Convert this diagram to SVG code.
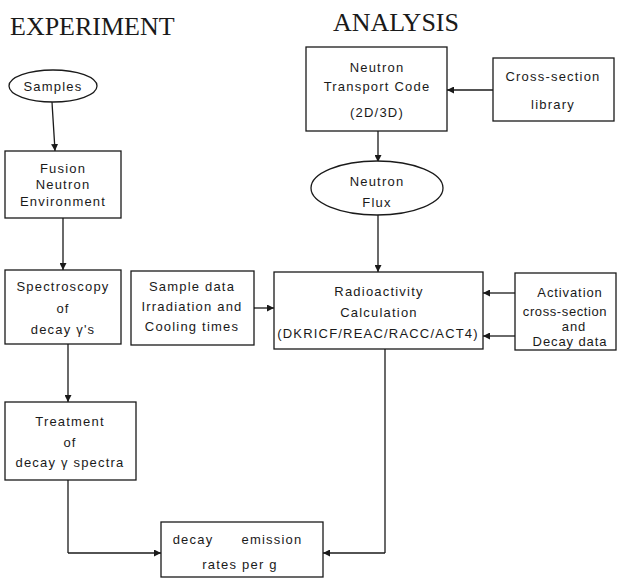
<svg xmlns="http://www.w3.org/2000/svg" width="618" height="579" viewBox="0 0 618 579">
<defs>
<marker id="ah" viewBox="0 0 10 10" refX="10" refY="5" markerWidth="7" markerHeight="7" markerUnits="userSpaceOnUse" orient="auto">
<path d="M0,0 L10,5 L0,10 z" fill="#1a1a1a"/>
</marker>
<style>
.box{fill:#fff;stroke:#1a1a1a;stroke-width:1.3}
.t{font-family:"Liberation Sans",Arial,sans-serif;font-size:13px;letter-spacing:1.2px;fill:#1a1a1a;text-anchor:middle}
.title{font-family:"Liberation Serif","Times New Roman",serif;font-size:26px;fill:#1a1a1a}
.c{fill:none;stroke:#1a1a1a;stroke-width:1.3}
.ca{fill:none;stroke:#1a1a1a;stroke-width:1.3;marker-end:url(#ah)}
</style>
</defs>
<rect width="618" height="579" fill="#fff"/>
<text class="title" x="10" y="35">EXPERIMENT</text>
<text class="title" x="333" y="31">ANALYSIS</text>

<g id="connectors">
<path class="ca" d="M52,102 L55,151"/>
<path class="ca" d="M63,218 L63,270"/>
<path class="ca" d="M68,344 L68,402"/>
<path class="c" d="M68,480 L68,553"/>
<path class="ca" d="M68,553 L161,553"/>
<path class="ca" d="M254,308 L274,308"/>
<path class="ca" d="M493,90 L447,90"/>
<path class="ca" d="M378,131 L378,162"/>
<path class="ca" d="M378,215 L378,272"/>
<path class="ca" d="M515,293 L483,293"/>
<path class="ca" d="M515,336 L483,336"/>
<path class="c" d="M385,349 L385,553"/>
<path class="ca" d="M385,553 L323,553"/>
</g>

<g id="samples">
<ellipse class="box" cx="53" cy="86" rx="44" ry="16"/>
<text class="t" x="53" y="91">Samples</text>
</g>
<g id="fusion">
<rect class="box" x="5" y="151" width="116" height="67"/>
<text class="t" x="63" y="173">Fusion</text>
<text class="t" x="63" y="189">Neutron</text>
<text class="t" x="63" y="206">Environment</text>
</g>
<g id="spectroscopy">
<rect class="box" x="5" y="270" width="116" height="74"/>
<text class="t" x="63" y="291">Spectroscopy</text>
<text class="t" x="63" y="313">of</text>
<text class="t" x="63" y="334">decay γ's</text>
</g>
<g id="treatment">
<rect class="box" x="5" y="402" width="131" height="78"/>
<text class="t" x="70" y="426">Treatment</text>
<text class="t" x="70" y="447">of</text>
<text class="t" x="70" y="467">decay γ spectra</text>
</g>
<g id="sampledata">
<rect class="box" x="131" y="271" width="123" height="74"/>
<text class="t" x="192" y="291">Sample data</text>
<text class="t" x="192" y="311">Irradiation and</text>
<text class="t" x="192" y="331">Cooling times</text>
</g>
<g id="radioactivity">
<rect class="box" x="274" y="272" width="209" height="77"/>
<text class="t" x="379" y="296">Radioactivity</text>
<text class="t" x="379" y="317">Calculation</text>
<text class="t" x="378" y="338">(DKRICF/REAC/RACC/ACT4)</text>
</g>
<g id="activation">
<rect class="box" x="515" y="273" width="101" height="77"/>
<text class="t" x="570" y="297" style="letter-spacing:0.9px">Activation</text>
<text class="t" x="565" y="316" style="letter-spacing:0.6px">cross-section</text>
<text class="t" x="574" y="331" style="letter-spacing:0.9px">and</text>
<text class="t" x="570" y="346" style="letter-spacing:0.9px">Decay data</text>
</g>
<g id="transport">
<rect class="box" x="306" y="47" width="141" height="84"/>
<text class="t" x="377" y="72">Neutron</text>
<text class="t" x="377" y="91">Transport Code</text>
<text class="t" x="377" y="117">(2D/3D)</text>
</g>
<g id="library">
<rect class="box" x="493" y="58" width="121" height="63"/>
<text class="t" x="553" y="81">Cross-section</text>
<text class="t" x="553" y="109">library</text>
</g>
<g id="flux">
<ellipse class="box" cx="377" cy="188" rx="66" ry="27"/>
<text class="t" x="377" y="186">Neutron</text>
<text class="t" x="377" y="207">Flux</text>
</g>
<g id="emission">
<rect class="box" x="161" y="522" width="162" height="55"/>
<text class="t" x="193" y="544">decay</text>
<text class="t" x="272" y="544">emission</text>
<text class="t" x="240" y="569">rates per g</text>
</g>
</svg>
